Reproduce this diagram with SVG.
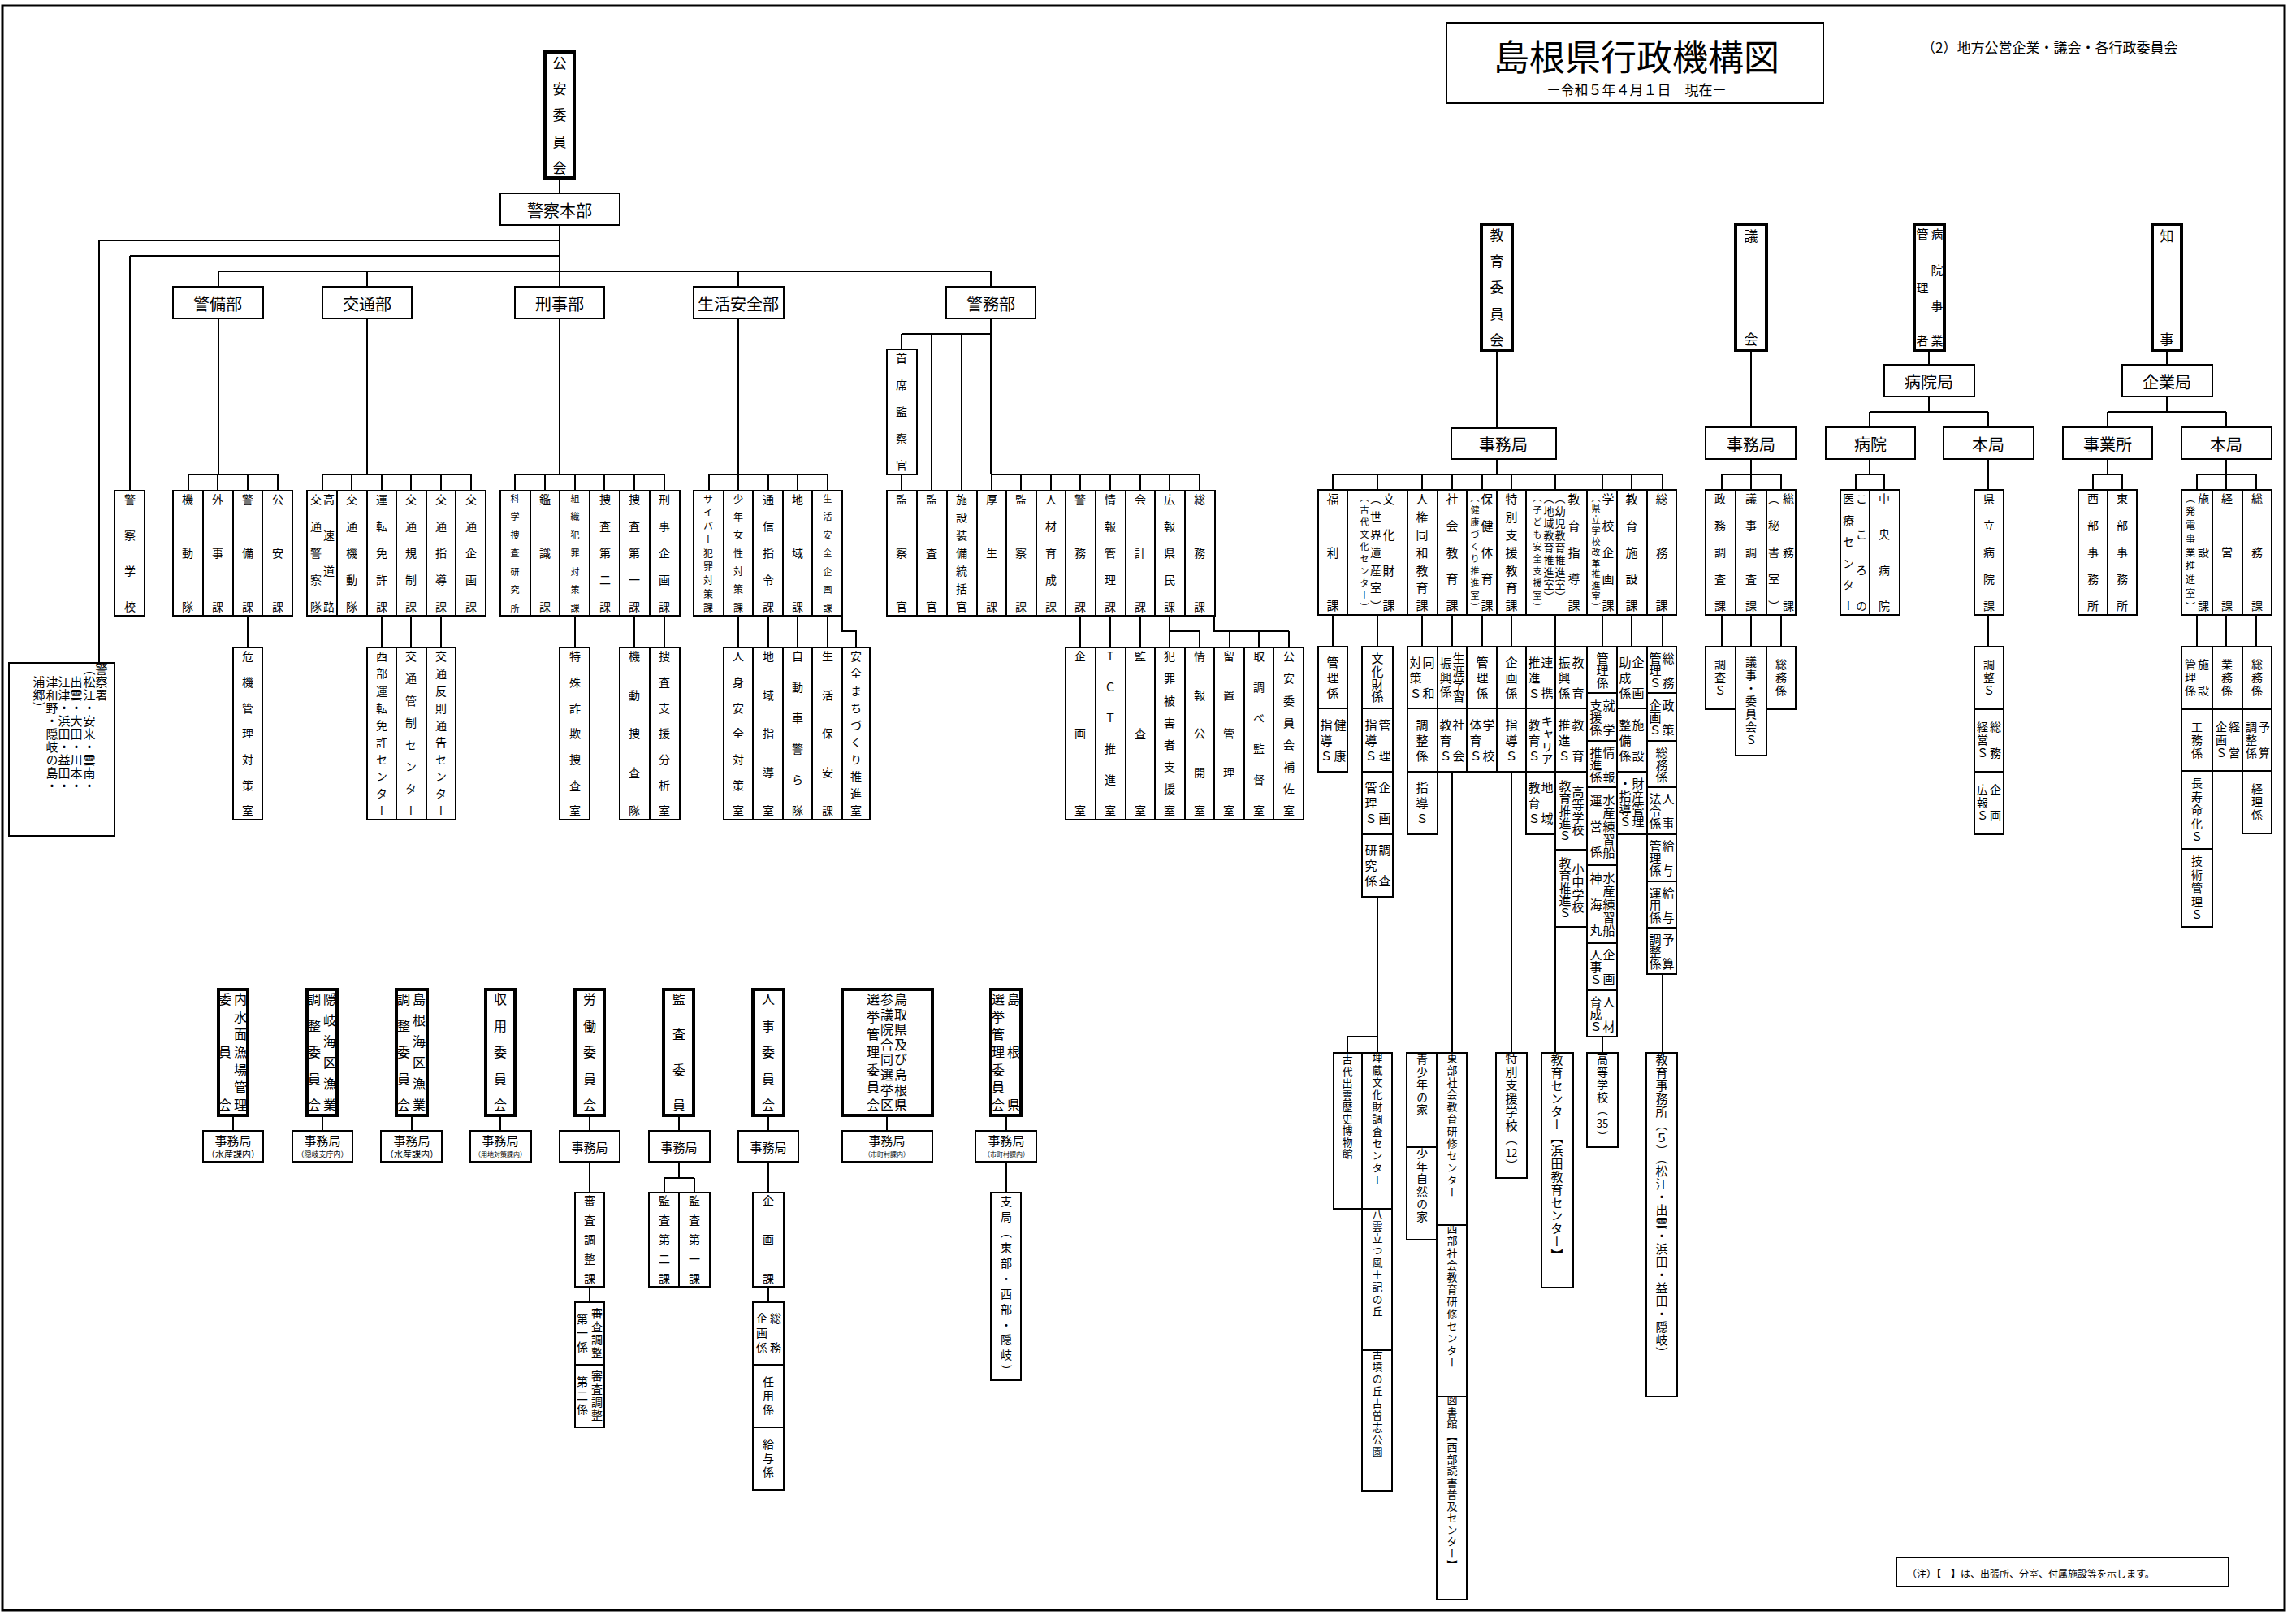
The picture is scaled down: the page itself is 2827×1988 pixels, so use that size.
<svg xmlns="http://www.w3.org/2000/svg" width="2827" height="1988" viewBox="0 0 2827 1988">
<style>
text{font-family:"Noto Sans CJK JP","Noto Sans CJK SC",sans-serif;fill:#000}
.b{fill:#fff;stroke:#000;stroke-width:2}
.t{fill:#fff;stroke:#000;stroke-width:4}
.ln{fill:none;stroke:#000;stroke-width:2}
.v{writing-mode:vertical-rl;text-anchor:middle;font-size:14px}
.vs{writing-mode:vertical-rl;text-anchor:start;font-size:14px}
.h{text-anchor:middle;dominant-baseline:central;font-size:20px}
.f8{font-size:8px}.f9{font-size:9px}.f10{font-size:10px}.f11{font-size:11px}.f12{font-size:12px}.f13{font-size:13px}.f15{font-size:15px}.f16{font-size:16px}.f17{font-size:17px}
.ls1{letter-spacing:1px}.ls15{letter-spacing:1.5px}.ls2{letter-spacing:2px}
</style>
<rect x="3" y="7" width="2810" height="1975" fill="none" stroke="#000" stroke-width="3"/>
<g id="title">
<rect x="1781" y="28" width="464" height="99" fill="#fff" stroke="#000" stroke-width="2"/>
<text class="h" x="2015" y="68" style="font-size:44px">島根県行政機構図</text>
<text class="h f17" x="2015" y="109">ー令和５年４月１日　現在ー</text>
</g>
<text id="subtitle" x="2366" y="57" style="font-size:17px;dominant-baseline:central">（2）地方公営企業・議会・各行政委員会</text>

<g id="connectors" class="ln">
<path d="M689 219V238M689 277V353M122 296H689M160 315H689M269 334H1220M122 296V816M160 315V604M269 334V353M452 334V353M909 334V353M1220 334V353M269 392V584M452 392V584M689 392V584M909 392V584M1220 392V584M232 584H342M397 584H580M634 584H819M873 584H1020M1220 584H1477"/>
<path d="M232 584V604M268 584V604M305 584V604M342 584V604M397 584V604M433 584V604M470 584V604M506 584V604M543 584V604M580 584V604M634 584V604M671 584V604M708 584V604M744 584V604M781 584V604M818 584V604M873 584V604M909 584V604M946 584V604M982 584V604M1019 584V604M1221 584V604M1257 584V604M1294 584V604M1330 584V604M1367 584V604M1404 584V604M1440 584V604M1477 584V604M1110 411H1220M1110 411V430M1147 411V604M1184 411V604M1110 584V604"/>
<path d="M305 758V797M470 758V797M506 758V797M543 758V797M708 758V797M781 758V797M818 758V797M909 758V797M946 758V797M982 758V797M1019 758V797M1037 758V777H1054V797M1330 758V797M1367 758V797M1404 758V797M1440 758V797M1440 777H1477V797M1495 758V777H1587M1514 777V797M1550 777V797M1587 777V797"/>
<path d="M1843 431V527M1843 565V584M1641 584H2047M1641 584V603M1696 584V603M1751 584V603M1788 584V603M1825 584V603M1861 584V603M1915 584V603M1973 584V603M2009 584V603M2047 584V603M1641 757V796M1696 757V796M1751 757V796M1788 757V796M1825 757V796M1861 757V796M1915 757V796M1973 757V796M2009 757V796M2047 757V796M1696 1104V1296M1659 1276H1696M1659 1276V1296M1788 950V1296M1861 950V1296M1915 1027V1296M1973 1276V1296M2047 1199V1296"/>
<path d="M2156 431V526M2156 565V584M2120 584H2193M2120 584V603M2156 584V603M2193 584V603M2120 757V796M2156 757V796M2193 757V796M2375 431V449M2375 488V507M2302 507H2448M2302 507V526M2448 507V526M2302 565V584M2285 584H2320M2285 584V603M2320 584V603M2448 565V603M2448 757V796M2668 431V449M2668 488V507M2595 507H2741M2595 507V526M2741 507V526M2595 565V584M2577 584H2613M2577 584V603M2613 584V603M2741 565V584M2705 584H2778M2705 584V603M2741 584V603M2778 584V603M2705 757V796M2741 757V796M2778 757V796"/>
<path d="M287 1373V1392M397 1373V1392M507 1373V1392M616 1373V1392M726 1373V1392M836 1373V1392M946 1373V1392M1092 1373V1392M1239 1373V1392M726 1430V1468M726 1584V1603M836 1430V1450M818 1450H855M818 1450V1468M855 1450V1468M946 1430V1468M946 1584V1603M1239 1430V1468"/>
</g>

<!-- Police -->
<g id="koan-iinkai"><rect class="t" x="671" y="64" width="36" height="155"/><text class="v f17" x="689" y="142" textLength="146">公安委員会</text></g>
<g id="keisatsu-honbu"><rect class="b" x="616" y="238" width="147" height="39"/><text class="h" x="689" y="258">警察本部</text></g>
<g id="keibi-bu"><rect class="b" x="213" y="353" width="111" height="39"/><text class="h" x="268" y="373">警備部</text></g>
<g id="kotsu-bu"><rect class="b" x="397" y="353" width="110" height="39"/><text class="h" x="452" y="373">交通部</text></g>
<g id="keiji-bu"><rect class="b" x="634" y="353" width="110" height="39"/><text class="h" x="689" y="373">刑事部</text></g>
<g id="seian-bu"><rect class="b" x="854" y="353" width="111" height="39"/><text class="h" x="909" y="373">生活安全部</text></g>
<g id="keimu-bu"><rect class="b" x="1165" y="353" width="110" height="39"/><text class="h" x="1220" y="373">警務部</text></g>

<g id="keisatsusho"><rect class="b" x="11" y="816" width="130" height="213"/>
<text class="vs f15 ls1" x="125" y="816">警察署</text>
<text class="vs f15 ls1" x="110" y="816">（松江・安来・雲南・</text>
<text class="vs f15 ls1" x="94" y="832">出雲・大田・川本・</text>
<text class="vs f15 ls1" x="79" y="832">江津・浜田・益田・</text>
<text class="vs f15 ls1" x="64" y="832">津和野・隠岐の島・</text>
<text class="vs f15 ls1" x="48" y="832">浦郷）</text></g>
<g id="keisatsu-gakko"><rect class="b" x="141" y="604" width="37" height="154"/><text class="v" x="160" y="681" textLength="146">警察学校</text></g>

<g id="keibi-ka-row">
<rect class="b" x="213" y="604" width="37" height="154"/><text class="v" x="231" y="681" textLength="146">機動隊</text>
<rect class="b" x="250" y="604" width="37" height="154"/><text class="v" x="268" y="681" textLength="146">外事課</text>
<rect class="b" x="287" y="604" width="36" height="154"/><text class="v" x="305" y="681" textLength="146">警備課</text>
<rect class="b" x="323" y="604" width="37" height="154"/><text class="v" x="342" y="681" textLength="146">公安課</text>
</g>
<g id="kiki-kanri"><rect class="b" x="287" y="797" width="36" height="212"/><text class="v" x="305" y="903" textLength="204">危機管理対策室</text></g>

<g id="kotsu-ka-row">
<rect class="b" x="378" y="604" width="37" height="154"/><text class="v" x="405" y="681" textLength="146">高速道路</text><text class="v" x="389" y="681" textLength="146">交通警察隊</text>
<rect class="b" x="415" y="604" width="37" height="154"/><text class="v" x="433" y="681" textLength="146">交通機動隊</text>
<rect class="b" x="452" y="604" width="36" height="154"/><text class="v" x="470" y="681" textLength="146">運転免許課</text>
<rect class="b" x="488" y="604" width="37" height="154"/><text class="v" x="506" y="681" textLength="146">交通規制課</text>
<rect class="b" x="525" y="604" width="36" height="154"/><text class="v" x="543" y="681" textLength="146">交通指導課</text>
<rect class="b" x="561" y="604" width="37" height="154"/><text class="v" x="580" y="681" textLength="146">交通企画課</text>
</g>
<g id="kotsu-sub">
<rect class="b" x="452" y="797" width="36" height="212"/><text class="v" x="470" y="903" textLength="204">西部運転免許センター</text>
<rect class="b" x="488" y="797" width="37" height="212"/><text class="v" x="506" y="903" textLength="204">交通管制センター</text>
<rect class="b" x="525" y="797" width="36" height="212"/><text class="v" x="543" y="903" textLength="204">交通反則通告センター</text>
</g>

<g id="keiji-ka-row">
<rect class="b" x="616" y="604" width="37" height="154"/><text class="v f11" x="634" y="681" textLength="146">科学捜査研究所</text>
<rect class="b" x="653" y="604" width="36" height="154"/><text class="v" x="671" y="681" textLength="146">鑑識課</text>
<rect class="b" x="689" y="604" width="37" height="154"/><text class="v f11" x="708" y="681" textLength="146">組織犯罪対策課</text>
<rect class="b" x="726" y="604" width="37" height="154"/><text class="v" x="745" y="681" textLength="146">捜査第二課</text>
<rect class="b" x="763" y="604" width="37" height="154"/><text class="v" x="781" y="681" textLength="146">捜査第一課</text>
<rect class="b" x="800" y="604" width="37" height="154"/><text class="v" x="818" y="681" textLength="146">刑事企画課</text>
</g>
<g id="keiji-sub">
<rect class="b" x="689" y="797" width="37" height="212"/><text class="v" x="708" y="903" textLength="204">特殊詐欺捜査室</text>
<rect class="b" x="763" y="797" width="37" height="212"/><text class="v" x="781" y="903" textLength="204">機動捜査隊</text>
<rect class="b" x="800" y="797" width="37" height="212"/><text class="v" x="818" y="903" textLength="204">捜査支援分析室</text>
</g>

<g id="seian-ka-row">
<rect class="b" x="854" y="604" width="37" height="154"/><text class="v f12" x="872" y="681" textLength="146">サイバー犯罪対策課</text>
<rect class="b" x="891" y="604" width="36" height="154"/><text class="v f12" x="909" y="681" textLength="146">少年女性対策課</text>
<rect class="b" x="927" y="604" width="37" height="154"/><text class="v" x="946" y="681" textLength="146">通信指令課</text>
<rect class="b" x="964" y="604" width="36" height="154"/><text class="v" x="982" y="681" textLength="146">地域課</text>
<rect class="b" x="1000" y="604" width="37" height="154"/><text class="v f11" x="1019" y="681" textLength="146">生活安全企画課</text>
</g>
<g id="seian-sub">
<rect class="b" x="891" y="797" width="36" height="212"/><text class="v" x="909" y="903" textLength="204">人身安全対策室</text>
<rect class="b" x="927" y="797" width="37" height="212"/><text class="v" x="946" y="903" textLength="204">地域指導室</text>
<rect class="b" x="964" y="797" width="36" height="212"/><text class="v" x="982" y="903" textLength="204">自動車警ら隊</text>
<rect class="b" x="1000" y="797" width="37" height="212"/><text class="v" x="1019" y="903" textLength="204">生活保安課</text>
<rect class="b" x="1037" y="797" width="34" height="212"/><text class="v" x="1054" y="903" textLength="204">安全まちづくり推進室</text>
</g>

<g id="shuseki-kansatsukan"><rect class="b" x="1092" y="430" width="37" height="154"/><text class="v" x="1110" y="507" textLength="146">首席監察官</text></g>
<g id="keimu-ka-row">
<rect class="b" x="1092" y="604" width="37" height="154"/><text class="v" x="1110" y="681" textLength="146">監察官</text>
<rect class="b" x="1129" y="604" width="37" height="154"/><text class="v" x="1147" y="681" textLength="146">監査官</text>
<rect class="b" x="1166" y="604" width="37" height="154"/><text class="v" x="1184" y="681" textLength="146">施設装備統括官</text>
<rect class="b" x="1203" y="604" width="36" height="154"/><text class="v" x="1221" y="681" textLength="146">厚生課</text>
<rect class="b" x="1239" y="604" width="37" height="154"/><text class="v" x="1257" y="681" textLength="146">監察課</text>
<rect class="b" x="1276" y="604" width="36" height="154"/><text class="v" x="1294" y="681" textLength="146">人材育成課</text>
<rect class="b" x="1312" y="604" width="37" height="154"/><text class="v" x="1330" y="681" textLength="146">警務課</text>
<rect class="b" x="1349" y="604" width="37" height="154"/><text class="v" x="1367" y="681" textLength="146">情報管理課</text>
<rect class="b" x="1386" y="604" width="36" height="154"/><text class="v" x="1404" y="681" textLength="146">会計課</text>
<rect class="b" x="1422" y="604" width="37" height="154"/><text class="v" x="1440" y="681" textLength="146">広報県民課</text>
<rect class="b" x="1459" y="604" width="37" height="154"/><text class="v" x="1477" y="681" textLength="146">総務課</text>
</g>
<g id="keimu-sub">
<rect class="b" x="1312" y="797" width="37" height="212"/><text class="v" x="1330" y="903" textLength="204">企画室</text>
<rect class="b" x="1349" y="797" width="37" height="212"/><text class="v" x="1367" y="903" textLength="204">ＩＣＴ推進室</text>
<rect class="b" x="1386" y="797" width="36" height="212"/><text class="v" x="1404" y="903" textLength="204">監査室</text>
<rect class="b" x="1422" y="797" width="37" height="212"/><text class="v" x="1440" y="903" textLength="204">犯罪被害者支援室</text>
<rect class="b" x="1459" y="797" width="36" height="212"/><text class="v" x="1477" y="903" textLength="204">情報公開室</text>
<rect class="b" x="1495" y="797" width="37" height="212"/><text class="v" x="1513" y="903" textLength="204">留置管理室</text>
<rect class="b" x="1532" y="797" width="36" height="212"/><text class="v" x="1550" y="903" textLength="204">取調べ監督室</text>
<rect class="b" x="1568" y="797" width="37" height="212"/><text class="v" x="1587" y="903" textLength="204">公安委員会補佐室</text>
</g>

<!-- Education -->
<g id="kyoiku-iinkai"><rect class="t" x="1824" y="276" width="38" height="155"/><text class="v f17" x="1843" y="354" textLength="146">教育委員会</text></g>
<g id="kyoiku-jimukyoku"><rect class="b" x="1787" y="527" width="129" height="38"/><text class="h" x="1851" y="546">事務局</text></g>
<g id="kyoiku-ka-row">
<rect class="b" x="1623" y="603" width="36" height="154"/><text class="v f15" x="1641" y="680" textLength="146">福利課</text>
<rect class="b" x="1659" y="603" width="74" height="154"/><text class="v f15" x="1710" y="680" textLength="146">文化財課</text><text class="v" x="1694" y="680" textLength="146">（世界遺産室）</text><text class="v f11" x="1680" y="680" textLength="146">（古代文化センター）</text>
<rect class="b" x="1733" y="603" width="37" height="154"/><text class="v f15" x="1751" y="680" textLength="146">人権同和教育課</text>
<rect class="b" x="1770" y="603" width="36" height="154"/><text class="v f15" x="1788" y="680" textLength="146">社会教育課</text>
<rect class="b" x="1806" y="603" width="37" height="154"/><text class="v f15" x="1831" y="680" textLength="146">保健体育課</text><text class="v f11" x="1816" y="680" textLength="146">（健康づくり推進室）</text>
<rect class="b" x="1843" y="603" width="36" height="154"/><text class="v f15" x="1861" y="680" textLength="146">特別支援教育課</text>
<rect class="b" x="1879" y="603" width="75" height="154"/><text class="v f15" x="1938" y="680" textLength="146">教育指導課</text><text class="v f13" x="1921" y="674" textLength="134">（幼児教育推進室）</text><text class="v f13" x="1907" y="674" textLength="134">（地域教育推進室）</text><text class="v f11" x="1893" y="680" textLength="146">（子ども安全支援室）</text>
<rect class="b" x="1954" y="603" width="37" height="154"/><text class="v f15" x="1980" y="680" textLength="146">学校企画課</text><text class="v f11" x="1965" y="680" textLength="146">（県立学校改革推進室）</text>
<rect class="b" x="1991" y="603" width="37" height="154"/><text class="v f15" x="2009" y="680" textLength="146">教育施設課</text>
<rect class="b" x="2028" y="603" width="36" height="154"/><text class="v f15" x="2046" y="680" textLength="146">総務課</text>
</g>
<g id="kyoiku-kakari">
<rect class="b" x="1623" y="796" width="36" height="76"/><text class="v f15" x="1641" y="834" textLength="53">管理係</text>
<rect class="b" x="1623" y="872" width="36" height="78"/><text class="v f15" x="1650" y="911" textLength="53">健康</text><text class="v f15" x="1633" y="911" textLength="53">指導Ｓ</text>
<rect class="b" x="1677" y="796" width="38" height="76"/><text class="v f15" x="1696" y="834" textLength="62">文化財係</text>
<rect class="b" x="1677" y="872" width="38" height="78"/><text class="v f15" x="1705" y="911" textLength="53">管理</text><text class="v f15" x="1688" y="911" textLength="53">指導Ｓ</text>
<rect class="b" x="1677" y="950" width="38" height="77"/><text class="v f15" x="1705" y="988" textLength="53">企画</text><text class="v f15" x="1688" y="988" textLength="53">管理Ｓ</text>
<rect class="b" x="1677" y="1027" width="38" height="77"/><text class="v f15" x="1705" y="1065" textLength="53">調査</text><text class="v f15" x="1688" y="1065" textLength="53">研究係</text>
<rect class="b" x="1733" y="796" width="37" height="76"/><text class="v f15" x="1759" y="834" textLength="53">同和</text><text class="v f15" x="1743" y="834" textLength="53">対策Ｓ</text>
<rect class="b" x="1733" y="872" width="37" height="78"/><text class="v f15" x="1751" y="911" textLength="53">調整係</text>
<rect class="b" x="1733" y="950" width="37" height="77"/><text class="v f15" x="1751" y="988" textLength="53">指導Ｓ</text>
<rect class="b" x="1770" y="796" width="36" height="76"/><text class="v f15" x="1796" y="834" textLength="62">生涯学習</text><text class="v f15" x="1780" y="834" textLength="50">振興係</text>
<rect class="b" x="1770" y="872" width="36" height="78"/><text class="v f15" x="1796" y="911" textLength="53">社会</text><text class="v f15" x="1780" y="911" textLength="53">教育Ｓ</text>
<rect class="b" x="1806" y="796" width="37" height="76"/><text class="v f15" x="1825" y="834" textLength="53">管理係</text>
<rect class="b" x="1806" y="872" width="37" height="78"/><text class="v f15" x="1833" y="911" textLength="53">学校</text><text class="v f15" x="1817" y="911" textLength="53">体育Ｓ</text>
<rect class="b" x="1843" y="796" width="36" height="76"/><text class="v f15" x="1861" y="834" textLength="53">企画係</text>
<rect class="b" x="1843" y="872" width="36" height="78"/><text class="v f15" x="1861" y="911" textLength="53">指導Ｓ</text>
<rect class="b" x="1879" y="796" width="36" height="76"/><text class="v f15" x="1905" y="834" textLength="53">連携</text><text class="v f15" x="1889" y="834" textLength="53">推進Ｓ</text>
<rect class="b" x="1879" y="872" width="36" height="78"/><text class="v f15" x="1905" y="911" textLength="62">キャリア</text><text class="v f15" x="1889" y="911" textLength="53">教育Ｓ</text>
<rect class="b" x="1879" y="950" width="36" height="77"/><text class="v f15" x="1905" y="988" textLength="53">地域</text><text class="v f15" x="1889" y="988" textLength="53">教育Ｓ</text>
<rect class="b" x="1915" y="796" width="39" height="76"/><text class="v f15" x="1943" y="834" textLength="53">教育</text><text class="v f15" x="1926" y="834" textLength="53">振興係</text>
<rect class="b" x="1915" y="872" width="39" height="78"/><text class="v f15" x="1943" y="911" textLength="53">教育</text><text class="v f15" x="1926" y="911" textLength="53">推進Ｓ</text>
<rect class="b" x="1915" y="950" width="39" height="96"/><text class="v f15" x="1943" y="998" textLength="62">高等学校</text><text class="v f15" x="1927" y="998" textLength="76">教育推進Ｓ</text>
<rect class="b" x="1915" y="1046" width="39" height="95"/><text class="v f15" x="1943" y="1093" textLength="62">小中学校</text><text class="v f15" x="1927" y="1093" textLength="76">教育推進Ｓ</text>
<rect class="b" x="1954" y="796" width="37" height="57"/><text class="v f15" x="1973" y="825" textLength="45">管理係</text>
<rect class="b" x="1954" y="853" width="37" height="59"/><text class="v f15" x="1981" y="883" textLength="45">就学</text><text class="v f15" x="1965" y="883" textLength="45">支援係</text>
<rect class="b" x="1954" y="912" width="37" height="57"/><text class="v f15" x="1981" y="941" textLength="45">情報</text><text class="v f15" x="1965" y="941" textLength="45">推進係</text>
<rect class="b" x="1954" y="969" width="37" height="96"/><text class="v f15" x="1981" y="1017" textLength="80">水産練習船</text><text class="v f15" x="1965" y="1017" textLength="78">運営係</text>
<rect class="b" x="1954" y="1065" width="37" height="96"/><text class="v f15" x="1981" y="1113" textLength="80">水産練習船</text><text class="v f15" x="1965" y="1113" textLength="78">神海丸</text>
<rect class="b" x="1954" y="1161" width="37" height="58"/><text class="v f15" x="1981" y="1190" textLength="45">企画</text><text class="v f15" x="1965" y="1190" textLength="45">人事Ｓ</text>
<rect class="b" x="1954" y="1219" width="37" height="57"/><text class="v f15" x="1981" y="1248" textLength="45">人材</text><text class="v f15" x="1965" y="1248" textLength="45">育成Ｓ</text>
<rect class="b" x="1991" y="796" width="37" height="76"/><text class="v f15" x="2017" y="834" textLength="53">企画</text><text class="v f15" x="2001" y="834" textLength="53">助成係</text>
<rect class="b" x="1991" y="872" width="37" height="78"/><text class="v f15" x="2017" y="911" textLength="53">施設</text><text class="v f15" x="2001" y="911" textLength="53">整備係</text>
<rect class="b" x="1991" y="950" width="37" height="77"/><text class="v f15" x="2017" y="988" textLength="62">財産管理</text><text class="v f15" x="2001" y="988" textLength="62">・指導Ｓ</text>
<rect class="b" x="2028" y="796" width="36" height="57"/><text class="v f15" x="2054" y="825" textLength="45">総務</text><text class="v f15" x="2038" y="825" textLength="45">管理Ｓ</text>
<rect class="b" x="2028" y="853" width="36" height="59"/><text class="v f15" x="2054" y="883" textLength="45">政策</text><text class="v f15" x="2038" y="883" textLength="45">企画Ｓ</text>
<rect class="b" x="2028" y="912" width="36" height="57"/><text class="v f15" x="2046" y="941" textLength="45">総務係</text>
<rect class="b" x="2028" y="969" width="36" height="58"/><text class="v f15" x="2054" y="998" textLength="45">人事</text><text class="v f15" x="2038" y="998" textLength="45">法令係</text>
<rect class="b" x="2028" y="1027" width="36" height="58"/><text class="v f15" x="2054" y="1056" textLength="45">給与</text><text class="v f15" x="2038" y="1056" textLength="45">管理係</text>
<rect class="b" x="2028" y="1085" width="36" height="57"/><text class="v f15" x="2054" y="1114" textLength="45">給与</text><text class="v f15" x="2038" y="1114" textLength="45">運用係</text>
<rect class="b" x="2028" y="1142" width="36" height="57"/><text class="v f15" x="2054" y="1171" textLength="45">予算</text><text class="v f15" x="2038" y="1171" textLength="45">調整係</text>
</g>
<g id="kyoiku-shisetsu">
<rect class="b" x="1642" y="1296" width="35" height="192"/><text class="vs f13 ls15" x="1659" y="1298">古代出雲歴史博物館</text>
<rect class="b" x="1677" y="1296" width="37" height="192"/><text class="vs f13 ls2" x="1696" y="1296">埋蔵文化財調査センター</text>
<rect class="b" x="1677" y="1488" width="37" height="174"/><text class="vs f13 ls2" x="1696" y="1488">八雲立つ風土記の丘</text>
<rect class="b" x="1677" y="1662" width="37" height="173"/><text class="vs f13 ls2" x="1696" y="1661">古墳の丘古曽志公園</text>
<rect class="b" x="1732" y="1296" width="37" height="116"/><text class="vs ls15" x="1751" y="1297">青少年の家</text>
<rect class="b" x="1732" y="1412" width="37" height="114"/><text class="vs ls15" x="1751" y="1413">少年自然の家</text>
<rect class="b" x="1769" y="1296" width="37" height="212"/><text class="vs f13 ls2" x="1788" y="1296">東部社会教育研修センター</text>
<rect class="b" x="1769" y="1508" width="37" height="211"/><text class="vs f13 ls2" x="1788" y="1506">西部社会教育研修センター</text>
<rect class="b" x="1769" y="1719" width="37" height="250"/><text class="vs f13 ls15" x="1788" y="1717">図書館【西部読書普及センター】</text>
<rect class="b" x="1842" y="1296" width="38" height="154"/><text class="vs f15 ls15" x="1861" y="1295">特別支援学校（</text><text class="h f13" x="1861" y="1418">12</text><text class="vs f15" x="1861" y="1427">）</text>
<rect class="b" x="1898" y="1296" width="39" height="289"/><text class="vs f15 ls1" x="1917" y="1297">教育センター【浜田教育センター】</text>
<rect class="b" x="1954" y="1296" width="38" height="116"/><text class="vs ls15" x="1973" y="1297">高等学校（</text><text class="h f13" x="1973" y="1382">35</text><text class="vs" x="1973" y="1392">）</text>
<rect class="b" x="2027" y="1296" width="38" height="423"/><text class="vs f15 ls1" x="2046" y="1297">教育事務所（５）（松江・出雲・浜田・益田・隠岐）</text>
</g>

<!-- Assembly / hospital / enterprise -->
<g id="gikai"><rect class="t" x="2137" y="276" width="38" height="155"/><text class="v f17" x="2156" y="354" textLength="144">議会</text></g>
<g id="gikai-jimukyoku"><rect class="b" x="2100" y="526" width="111" height="39"/><text class="h" x="2156" y="546">事務局</text></g>
<g id="gikai-ka">
<rect class="b" x="2100" y="603" width="37" height="154"/><text class="v" x="2118" y="680" textLength="146">政務調査課</text>
<rect class="b" x="2137" y="603" width="38" height="154"/><text class="v" x="2156" y="680" textLength="146">議事調査課</text>
<rect class="b" x="2175" y="603" width="36" height="154"/><text class="v" x="2202" y="680" textLength="146">総務課</text><text class="v" x="2184" y="680" textLength="146">（秘書室）</text>
<rect class="b" x="2100" y="796" width="37" height="77"/><text class="v" x="2118" y="834" textLength="46">調査Ｓ</text>
<rect class="b" x="2137" y="796" width="38" height="134"/><text class="v" x="2156" y="863" textLength="110">議事・委員会Ｓ</text>
<rect class="b" x="2175" y="796" width="36" height="77"/><text class="v" x="2193" y="834" textLength="46">総務係</text>
</g>
<g id="byoin-kanrisha"><rect class="t" x="2357" y="276" width="37" height="155"/><text class="v f15" x="2385" y="354" textLength="146">病院事業</text><text class="v f15" x="2367" y="354" textLength="146">管理者</text></g>
<g id="byoin-kyoku"><rect class="b" x="2320" y="449" width="111" height="39"/><text class="h" x="2375" y="469">病院局</text></g>
<g id="byoin"><rect class="b" x="2248" y="526" width="110" height="39"/><text class="h" x="2303" y="546">病院</text></g>
<g id="byoin-honkyoku"><rect class="b" x="2393" y="526" width="111" height="39"/><text class="h" x="2448" y="546">本局</text></g>
<g id="byoin-ka">
<rect class="b" x="2266" y="603" width="36" height="154"/><text class="v" x="2292" y="680" textLength="146">こころの</text><text class="v" x="2276" y="680" textLength="146">医療センター</text>
<rect class="b" x="2302" y="603" width="37" height="154"/><text class="v" x="2320" y="680" textLength="146">中央病院</text>
<rect class="b" x="2431" y="603" width="36" height="154"/><text class="v" x="2449" y="680" textLength="146">県立病院課</text>
<rect class="b" x="2431" y="796" width="36" height="77"/><text class="v" x="2449" y="834" textLength="46">調整Ｓ</text>
<rect class="b" x="2431" y="873" width="36" height="77"/><text class="v" x="2457" y="911" textLength="46">総務</text><text class="v" x="2441" y="911" textLength="46">経営Ｓ</text>
<rect class="b" x="2431" y="950" width="36" height="77"/><text class="v" x="2457" y="988" textLength="46">企画</text><text class="v" x="2441" y="988" textLength="46">広報Ｓ</text>
</g>
<g id="chiji"><rect class="t" x="2650" y="276" width="36" height="155"/><text class="v f17" x="2668" y="354" textLength="144">知事</text></g>
<g id="kigyo-kyoku"><rect class="b" x="2613" y="449" width="111" height="39"/><text class="h" x="2668" y="469">企業局</text></g>
<g id="jigyosho"><rect class="b" x="2540" y="526" width="110" height="39"/><text class="h" x="2595" y="546">事業所</text></g>
<g id="kigyo-honkyoku"><rect class="b" x="2686" y="526" width="111" height="39"/><text class="h" x="2741" y="546">本局</text></g>
<g id="kigyo-ka">
<rect class="b" x="2559" y="603" width="36" height="154"/><text class="v" x="2577" y="680" textLength="146">西部事務所</text>
<rect class="b" x="2595" y="603" width="36" height="154"/><text class="v" x="2613" y="680" textLength="146">東部事務所</text>
<rect class="b" x="2686" y="603" width="38" height="154"/><text class="v" x="2713" y="680" textLength="146">施設課</text><text class="v f12" x="2697" y="680" textLength="146">（発電事業推進室）</text>
<rect class="b" x="2724" y="603" width="37" height="154"/><text class="v" x="2742" y="680" textLength="146">経営課</text>
<rect class="b" x="2761" y="603" width="36" height="154"/><text class="v" x="2779" y="680" textLength="146">総務課</text>
<rect class="b" x="2686" y="796" width="38" height="77"/><text class="v" x="2713" y="834" textLength="46">施設</text><text class="v" x="2697" y="834" textLength="46">管理係</text>
<rect class="b" x="2686" y="873" width="38" height="76"/><text class="v" x="2705" y="911" textLength="46">工務係</text>
<rect class="b" x="2686" y="949" width="38" height="96"/><text class="v" x="2705" y="997" textLength="80">長寿命化Ｓ</text>
<rect class="b" x="2686" y="1045" width="38" height="96"/><text class="v" x="2705" y="1093" textLength="80">技術管理Ｓ</text>
<rect class="b" x="2724" y="796" width="37" height="77"/><text class="v" x="2742" y="834" textLength="46">業務係</text>
<rect class="b" x="2724" y="873" width="37" height="76"/><text class="v" x="2751" y="911" textLength="46">経営</text><text class="v" x="2735" y="911" textLength="46">企画Ｓ</text>
<rect class="b" x="2761" y="796" width="36" height="77"/><text class="v" x="2779" y="834" textLength="46">総務係</text>
<rect class="b" x="2761" y="873" width="36" height="76"/><text class="v" x="2788" y="911" textLength="46">予算</text><text class="v" x="2772" y="911" textLength="46">調整係</text>
<rect class="b" x="2761" y="949" width="36" height="77"/><text class="v" x="2779" y="987" textLength="46">経理係</text>
</g>

<!-- Administrative committees -->
<g id="naisuimen"><rect class="t" x="269" y="1218" width="36" height="155"/><text class="v f16" x="296" y="1295" textLength="146">内水面漁場管理</text><text class="v f16" x="277" y="1295" textLength="146">委員会</text>
<rect class="b" x="250" y="1392" width="74" height="38"/><text class="h f15" x="287" y="1403">事務局</text><text class="h f11" x="287" y="1420">（水産課内）</text></g>
<g id="oki-kaiku"><rect class="t" x="378" y="1218" width="37" height="155"/><text class="v f16" x="406" y="1295" textLength="146">隠岐海区漁業</text><text class="v f16" x="387" y="1295" textLength="146">調整委員会</text>
<rect class="b" x="360" y="1392" width="74" height="38"/><text class="h f15" x="397" y="1403">事務局</text><text class="h f9" x="397" y="1420">（隠岐支庁内）</text></g>
<g id="shimane-kaiku"><rect class="t" x="488" y="1218" width="38" height="155"/><text class="v f16" x="516" y="1295" textLength="146">島根海区漁業</text><text class="v f16" x="497" y="1295" textLength="146">調整委員会</text>
<rect class="b" x="469" y="1392" width="75" height="38"/><text class="h f15" x="507" y="1403">事務局</text><text class="h f11" x="507" y="1420">（水産課内）</text></g>
<g id="shuyo"><rect class="t" x="598" y="1218" width="36" height="155"/><text class="v f16" x="616" y="1295" textLength="146">収用委員会</text>
<rect class="b" x="579" y="1392" width="75" height="38"/><text class="h f15" x="616" y="1403">事務局</text><text class="h f8" x="616" y="1420">（用地対策課内）</text></g>
<g id="rodo"><rect class="t" x="708" y="1218" width="36" height="155"/><text class="v f16" x="726" y="1295" textLength="146">労働委員会</text>
<rect class="b" x="689" y="1392" width="74" height="38"/><text class="h f15" x="726" y="1411">事務局</text>
<rect class="b" x="708" y="1468" width="36" height="116"/><text class="v" x="726" y="1526" textLength="110">審査調整課</text>
<rect class="b" x="708" y="1603" width="36" height="77"/><text class="v" x="735" y="1641" textLength="62">審査調整</text><text class="v" x="717" y="1641" textLength="48">第一係</text>
<rect class="b" x="708" y="1680" width="36" height="77"/><text class="v" x="735" y="1718" textLength="62">審査調整</text><text class="v" x="717" y="1718" textLength="48">第二係</text></g>
<g id="kansa"><rect class="t" x="817" y="1218" width="37" height="155"/><text class="v f16" x="836" y="1295" textLength="146">監査委員</text>
<rect class="b" x="799" y="1392" width="75" height="38"/><text class="h f15" x="836" y="1411">事務局</text>
<rect class="b" x="799" y="1468" width="37" height="116"/><text class="v" x="818" y="1526" textLength="110">監査第二課</text>
<rect class="b" x="836" y="1468" width="38" height="116"/><text class="v" x="855" y="1526" textLength="110">監査第一課</text></g>
<g id="jinji"><rect class="t" x="927" y="1218" width="38" height="155"/><text class="v f16" x="946" y="1295" textLength="146">人事委員会</text>
<rect class="b" x="909" y="1392" width="74" height="38"/><text class="h f15" x="946" y="1411">事務局</text>
<rect class="b" x="927" y="1468" width="38" height="116"/><text class="v" x="946" y="1526" textLength="110">企画課</text>
<rect class="b" x="927" y="1603" width="38" height="77"/><text class="v" x="955" y="1641" textLength="50">総務</text><text class="v" x="938" y="1641" textLength="50">企画係</text>
<rect class="b" x="927" y="1680" width="38" height="77"/><text class="v" x="946" y="1718" textLength="48">任用係</text>
<rect class="b" x="927" y="1757" width="38" height="77"/><text class="v" x="946" y="1795" textLength="48">給与係</text></g>
<g id="sangiin-senkyo"><rect class="t" x="1037" y="1218" width="111" height="155"/><text class="v f16" x="1109" y="1295" textLength="146">鳥取県及び島根県</text><text class="v f16" x="1092" y="1295" textLength="146">参議院合同選挙区</text><text class="v f16" x="1075" y="1295" textLength="146">選挙管理委員会</text>
<rect class="b" x="1037" y="1392" width="111" height="38"/><text class="h f15" x="1092" y="1403">事務局</text><text class="h f8" x="1092" y="1420">（市町村課内）</text></g>
<g id="senkan"><rect class="t" x="1220" y="1218" width="37" height="155"/><text class="v f16" x="1248" y="1295" textLength="146">島根県</text><text class="v f16" x="1229" y="1295" textLength="146">選挙管理委員会</text>
<rect class="b" x="1201" y="1392" width="75" height="38"/><text class="h f15" x="1239" y="1403">事務局</text><text class="h f8" x="1239" y="1420">（市町村課内）</text>
<rect class="b" x="1220" y="1468" width="37" height="231"/><text class="v" x="1239" y="1583" textLength="222">支局（東部・西部・隠岐）</text></g>

<g id="note"><rect x="2335" y="1917" width="409" height="36" fill="#fff" stroke="#000" stroke-width="2"/><text x="2348" y="1936" style="font-size:12px;dominant-baseline:central">（注）【　】は、出張所、分室、付属施設等を示します。</text></g>
</svg>
